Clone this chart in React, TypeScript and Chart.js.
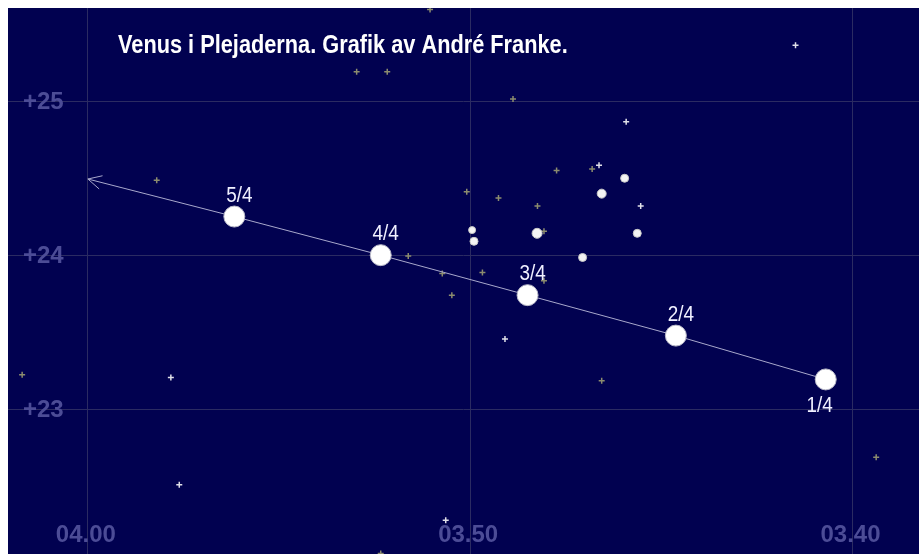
import React, { useEffect, useRef } from "react";
import { Chart, registerables } from "chart.js";

Chart.register(...registerables);

// ---- Text ----
const TITLE = "Venus i Plejaderna. Grafik av André Franke.";

// ---- Axes (RA in minutes of time, Dec in degrees) ----
const raTicks = [220, 230, 240];
const raTickLabels = ["03.40", "03.50", "04.00"];
const decTicks = [23, 24, 25];
const decTickLabels = ["+23", "+24", "+25"];
const raMin = 218.26;
const raMax = 242.09;
const decMin = 22.06;
const decMax = 25.61;

// ---- Venus track ----
const venusDates = ["1/4", "2/4", "3/4", "4/4", "5/4"];
const venusRa = [220.7, 224.62, 228.5, 232.34, 236.17];
const venusDec = [23.195, 23.48, 23.743, 24.003, 24.254];
const venusLabelBelow = [true, false, false, false, false];
const trackEndRa = 240.0;
const trackEndDec = 24.498;

// ---- Stars: faint crosses ----
const faintRa = [231.05, 232.97, 232.17, 228.88, 238.2, 230.09, 229.26, 227.74, 226.81, 228.24, 228.07, 231.62, 230.73, 229.68, 230.48, 228.07, 241.72, 226.56, 219.38, 232.34];
const faintDec = [25.6, 25.195, 25.195, 25.018, 24.49, 24.416, 24.375, 24.554, 24.564, 24.322, 24.158, 23.997, 23.883, 23.891, 23.743, 23.836, 23.226, 23.187, 22.689, 22.064];

// ---- Stars: bright crosses ----
const brightRa = [221.49, 225.92, 226.63, 225.54, 229.09, 237.83, 237.61, 230.64];
const brightDec = [25.367, 24.87, 24.588, 24.322, 23.458, 23.207, 22.511, 22.279];

// ---- Stars: Pleiades discs ----
const discRa = [225.96, 226.56, 229.95, 229.9, 228.25, 225.63, 227.06];
const discDec = [24.503, 24.403, 24.166, 24.093, 24.145, 24.145, 23.988];
const discSize = [4, 4.5, 3.5, 4, 5, 4, 4];

const BG = "#010150";
const GRID = "#2b2b62";
const TICK_COLOR = "#4c4c96";

const pts = (xs: number[], ys: number[]) => xs.map((x, i) => ({ x, y: ys[i] }));

// draw text horizontally condensed (no narrow font installed)
function narrowText(ctx: CanvasRenderingContext2D, text: string, x: number, y: number, sx: number, align: "left" | "center") {
  ctx.save();
  ctx.translate(x, y);
  ctx.scale(sx, 1);
  ctx.textAlign = align;
  ctx.fillText(text, 0, 0);
  ctx.restore();
}

const overlayPlugin = {
  id: "overlay",
  beforeDraw(chart: any) {
    const { ctx, width, height } = chart;
    ctx.save();
    ctx.fillStyle = BG;
    ctx.fillRect(0, 0, width, height);
    ctx.restore();
  },
  beforeDatasetsDraw(chart: any) {
    const { ctx } = chart;
    const xs = chart.scales.x;
    const ys = chart.scales.y;
    ctx.save();
    ctx.fillStyle = TICK_COLOR;
    ctx.font = "bold 24px 'Liberation Sans', Arial, sans-serif";
    ctx.textBaseline = "middle";
    ctx.textAlign = "left";
    decTicks.forEach((v, i) => {
      ctx.fillText(decTickLabels[i], 15, ys.getPixelForValue(v) + 1);
    });
    ctx.textAlign = "center";
    raTicks.forEach((v, i) => {
      ctx.fillText(raTickLabels[i], xs.getPixelForValue(v) - 2, chart.chartArea.bottom - 19);
    });
    ctx.restore();
  },
  afterDatasetsDraw(chart: any) {
    const { ctx } = chart;
    const xs = chart.scales.x;
    const ys = chart.scales.y;
    ctx.save();
    // arrow head at the end of the track
    const tx = xs.getPixelForValue(trackEndRa);
    const ty = ys.getPixelForValue(trackEndDec);
    const px = xs.getPixelForValue(venusRa[venusRa.length - 1]);
    const py = ys.getPixelForValue(venusDec[venusDec.length - 1]);
    const ang = Math.atan2(py - ty, px - tx);
    const len = 15;
    const spread = (27 * Math.PI) / 180;
    ctx.strokeStyle = "#a8a8cc";
    ctx.lineWidth = 1;
    ctx.beginPath();
    ctx.moveTo(tx + len * Math.cos(ang - spread), ty + len * Math.sin(ang - spread));
    ctx.lineTo(tx, ty);
    ctx.lineTo(tx + len * Math.cos(ang + spread), ty + len * Math.sin(ang + spread));
    ctx.stroke();

    // date labels
    ctx.fillStyle = "#f0f0ff";
    ctx.font = "22px 'Liberation Sans', Arial, sans-serif";
    ctx.textBaseline = "alphabetic";
    venusDates.forEach((d, i) => {
      const x = xs.getPixelForValue(venusRa[i]);
      const y = ys.getPixelForValue(venusDec[i]);
      if (venusLabelBelow[i]) narrowText(ctx, d, x - 6, y + 33, 0.86, "center");
      else narrowText(ctx, d, x + 5, y - 15, 0.86, "center");
    });

    // title
    ctx.fillStyle = "#ffffff";
    ctx.font = "bold 25px 'Liberation Sans', Arial, sans-serif";
    narrowText(ctx, TITLE, 110, 45, 0.87, "left");
    ctx.restore();
  },
};

export default function App() {
  const ref = useRef<HTMLCanvasElement>(null);
  useEffect(() => {
    if (!ref.current) return;
    const chart = new Chart(ref.current, {
      type: "scatter",
      data: {
        datasets: [
          {
            label: "Venus",
            data: [...pts(venusRa, venusDec), { x: trackEndRa, y: trackEndDec }],
            showLine: true,
            borderColor: "#a8a8cc",
            borderWidth: 1,
            pointRadius: [...venusRa.map(() => 10.5), 0],
            pointBackgroundColor: "#ffffff",
            pointBorderColor: "#b8b8c8",
            pointBorderWidth: 1,
            order: 0,
          } as any,
          {
            label: "Pleiades",
            data: pts(discRa, discDec),
            pointRadius: discSize,
            pointBackgroundColor: "#f4f4f4",
            pointBorderColor: "#c8c8c8",
            pointBorderWidth: 1,
            order: 1,
          } as any,
          {
            label: "Bright stars",
            data: pts(brightRa, brightDec),
            pointStyle: "cross",
            pointRadius: 3,
            borderColor: "#e0e0e8",
            pointBorderColor: "#e0e0e8",
            pointBorderWidth: 1.5,
            order: 2,
          } as any,
          {
            label: "Faint stars",
            data: pts(faintRa, faintDec),
            pointStyle: "cross",
            pointRadius: 3,
            borderColor: "#8c8c6e",
            pointBorderColor: "#8c8c6e",
            pointBorderWidth: 1.5,
            order: 3,
          } as any,
        ],
      },
      options: {
        animation: false,
        responsive: false,
        events: [],
        layout: { padding: 0, autoPadding: false },
        plugins: { legend: { display: false }, tooltip: { enabled: false }, title: { display: false } },
        scales: {
          x: {
            type: "linear",
            reverse: true,
            min: raMin,
            max: raMax,
            afterBuildTicks: (s: any) => {
              s.ticks = raTicks.map((v) => ({ value: v }));
            },
            ticks: { display: false },
            grid: { color: GRID, lineWidth: 1, drawTicks: false },
            border: { display: false },
          },
          y: {
            type: "linear",
            min: decMin,
            max: decMax,
            afterBuildTicks: (s: any) => {
              s.ticks = decTicks.map((v) => ({ value: v }));
            },
            ticks: { display: false },
            grid: { color: GRID, lineWidth: 1, drawTicks: false },
            border: { display: false },
          },
        },
      } as any,
      plugins: [overlayPlugin],
    });
    return () => chart.destroy();
  }, []);
  return (
    <div style={{ position: "fixed", left: 8, top: 8, width: 911, height: 546 }}>
      <canvas ref={ref} width={911} height={546} style={{ display: "block" }} />
    </div>
  );
}
